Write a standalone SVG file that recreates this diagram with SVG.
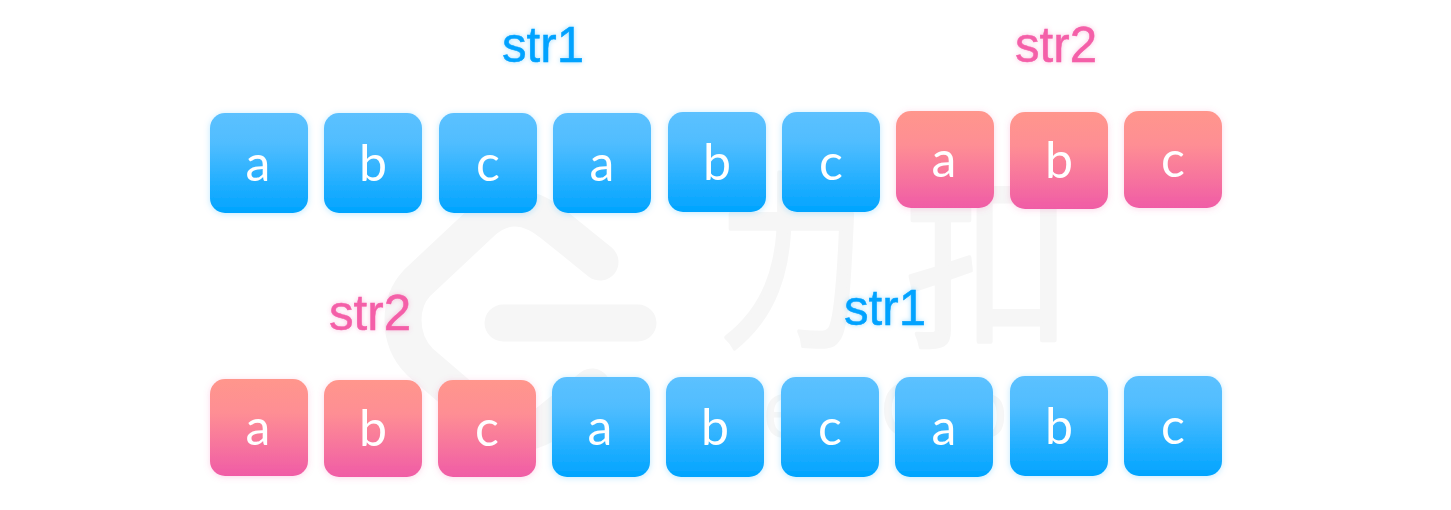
<svg xmlns="http://www.w3.org/2000/svg" width="1451" height="510" viewBox="0 0 1451 510">
<style>
.box-b{fill:url(#gb);filter:url(#sb)}
.box-r{fill:url(#gr);filter:url(#sr)}
.ch{font-family:"Lato","Noto Sans",sans-serif;font-size:50px;fill:#fff;text-anchor:middle}
.lb{font-family:"Liberation Sans",Arial,sans-serif;font-size:49.2px;stroke-width:0.5}
.l1{fill:#00a2ff;stroke:#00a2ff;filter:url(#tb)}
.l2{fill:#f45fa8;stroke:#f45fa8;filter:url(#tr)}
.wm{fill:none;stroke:#f6f6f6;stroke-width:37;stroke-linecap:round;stroke-linejoin:round}
.wt{font-family:"Noto Sans CJK SC","Noto Sans",sans-serif;font-size:190px;fill:#f6f6f6;stroke:#f6f6f6;stroke-width:4;stroke-linejoin:round}
.we{font-family:"Liberation Sans",sans-serif;font-size:80px;fill:#f6f6f6}
</style>
<defs>
<linearGradient id="gb" x1="0" y1="0" x2="0" y2="1"><stop offset="0" stop-color="#5cc1ff"/><stop offset="0.3" stop-color="#50bdff"/><stop offset="1" stop-color="#00a4ff"/></linearGradient>
<linearGradient id="gr" x1="0" y1="0" x2="0" y2="1"><stop offset="0" stop-color="#ff968c"/><stop offset="0.35" stop-color="#fe8e94"/><stop offset="1" stop-color="#f05ca6"/></linearGradient>
<filter id="sb" x="-20%" y="-20%" width="140%" height="140%"><feDropShadow dx="0" dy="1" stdDeviation="3" flood-color="#00a4ff" flood-opacity="0.25"/></filter>
<filter id="sr" x="-20%" y="-20%" width="140%" height="140%"><feDropShadow dx="0" dy="1" stdDeviation="3" flood-color="#f05ca6" flood-opacity="0.25"/></filter>
<filter id="tb" x="-20%" y="-20%" width="140%" height="140%"><feDropShadow dx="0" dy="0" stdDeviation="2.5" flood-color="#00a4ff" flood-opacity="0.35"/></filter>
<filter id="tr" x="-20%" y="-20%" width="140%" height="140%"><feDropShadow dx="0" dy="0" stdDeviation="2.5" flood-color="#f05ca6" flood-opacity="0.35"/></filter>
</defs>
<rect width="1451" height="510" fill="#fff"/>
<g id="watermark">
<path class="wm" d="M600,262 L553,224 Q514,193 482,222 L417,283 Q403,298 403,320 Q403,345 420,362 L490,422 Q515,442 545,425 L592,387"/>
<path class="wm" d="M503,323 L638,323"/>
<text class="wt" transform="translate(718,332) scale(0.78,1)">力</text>
<text class="wt" transform="translate(905,332) scale(0.88,1)">扣</text>
<text class="we" x="763 880 963" y="437">eCo</text>
</g>
<g id="connectors"/>
<g id="label-str1-top"><text class="lb l1" x="502" y="62">str1</text></g>
<g id="label-str2-top"><text class="lb l2" x="1015" y="62">str2</text></g>
<g id="label-str2-bottom"><text class="lb l2" x="329" y="330">str2</text></g>
<g id="label-str1-bottom"><text class="lb l1" x="844" y="325">str1</text></g>
<g id="t1"><rect class="box-b" x="210" y="113" width="98" height="100" rx="15"/><text class="ch" x="258" y="181">a</text></g>
<g id="t2"><rect class="box-b" x="324" y="113" width="98" height="100" rx="15"/><text class="ch" x="373" y="181">b</text></g>
<g id="t3"><rect class="box-b" x="439" y="113" width="98" height="100" rx="15"/><text class="ch" x="488" y="181">c</text></g>
<g id="t4"><rect class="box-b" x="553" y="113" width="98" height="100" rx="15"/><text class="ch" x="602" y="181">a</text></g>
<g id="t5"><rect class="box-b" x="668" y="112" width="98" height="100" rx="15"/><text class="ch" x="717" y="180">b</text></g>
<g id="t6"><rect class="box-b" x="782" y="112" width="98" height="100" rx="15"/><text class="ch" x="831" y="180">c</text></g>
<g id="t7"><rect class="box-r" x="896" y="111" width="98" height="97" rx="15"/><text class="ch" x="944" y="177">a</text></g>
<g id="t8"><rect class="box-r" x="1010" y="112" width="98" height="97" rx="15"/><text class="ch" x="1059" y="178">b</text></g>
<g id="t9"><rect class="box-r" x="1124" y="111" width="98" height="97" rx="15"/><text class="ch" x="1173" y="177">c</text></g>
<g id="b1"><rect class="box-r" x="210" y="379" width="98" height="97" rx="15"/><text class="ch" x="258" y="445">a</text></g>
<g id="b2"><rect class="box-r" x="324" y="380" width="98" height="97" rx="15"/><text class="ch" x="373" y="446">b</text></g>
<g id="b3"><rect class="box-r" x="438" y="380" width="98" height="97" rx="15"/><text class="ch" x="487" y="446">c</text></g>
<g id="b4"><rect class="box-b" x="552" y="377" width="98" height="100" rx="15"/><text class="ch" x="600" y="445">a</text></g>
<g id="b5"><rect class="box-b" x="666" y="377" width="98" height="100" rx="15"/><text class="ch" x="715" y="445">b</text></g>
<g id="b6"><rect class="box-b" x="781" y="377" width="98" height="100" rx="15"/><text class="ch" x="830" y="445">c</text></g>
<g id="b7"><rect class="box-b" x="895" y="377" width="98" height="100" rx="15"/><text class="ch" x="944" y="445">a</text></g>
<g id="b8"><rect class="box-b" x="1010" y="376" width="98" height="100" rx="15"/><text class="ch" x="1059" y="444">b</text></g>
<g id="b9"><rect class="box-b" x="1124" y="376" width="98" height="100" rx="15"/><text class="ch" x="1173" y="444">c</text></g>
</svg>
